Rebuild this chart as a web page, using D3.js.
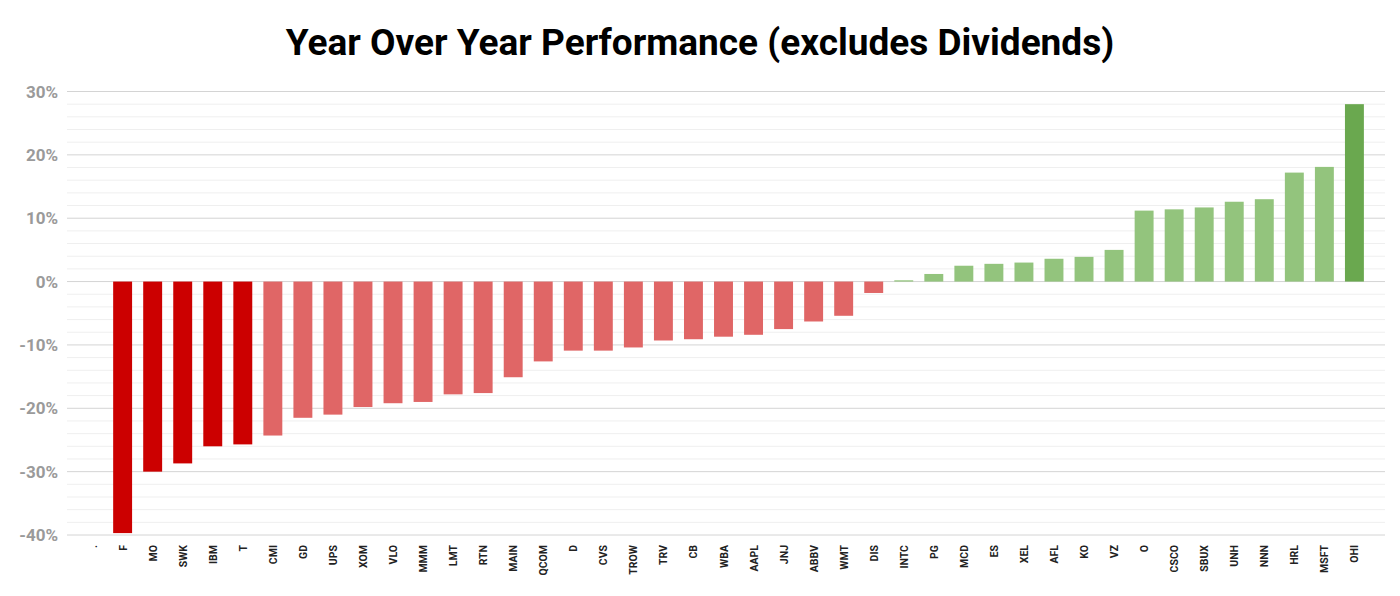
<!DOCTYPE html>
<html><head><meta charset="utf-8">
<script src="https://cdn.jsdelivr.net/npm/d3@7"></script>
<style>body{margin:0;background:#fff}</style>
</head><body><div id="chart"></div>
<script>
const tickers = [".", "F", "MO", "SWK", "IBM", "T", "CMI", "GD", "UPS", "XOM", "VLO", "MMM", "LMT", "RTN", "MAIN", "QCOM", "D", "CVS", "TROW", "TRV", "CB", "WBA", "AAPL", "JNJ", "ABBV", "WMT", "DIS", "INTC", "PG", "MCD", "ES", "XEL", "AFL", "KO", "VZ", "O", "CSCO", "SBUX", "UNH", "NNN", "HRL", "MSFT", "OHI"];
const change = [0, -39.7, -30, -28.7, -26, -25.7, -24.3, -21.5, -21, -19.8, -19.2, -19, -17.8, -17.6, -15.1, -12.6, -10.9, -10.9, -10.4, -9.3, -9.1, -8.7, -8.4, -7.5, -6.3, -5.4, -1.8, 0.2, 1.2, 2.5, 2.8, 3.0, 3.6, 3.9, 5.0, 11.2, 11.4, 11.7, 12.6, 13.0, 17.2, 18.1, 28.0];
const majorTicks = [-40, -30, -20, -10, 0, 10, 20, 30];
const minorTicks = d3.range(-40, 31, 2);

const width = 1400, height = 596;
const left = 67, right = 1385;

const svg = d3.select("#chart").append("svg")
  .attr("width", width).attr("height", height)
  .style("font-family", "Roboto, sans-serif");

svg.append("text")
  .attr("x", 700).attr("y", 55)
  .attr("text-anchor", "middle")
  .attr("font-size", 37).attr("font-weight", "bold")
  .text("Year Over Year Performance (excludes Dividends)");

const y = d3.scaleLinear().domain([-40, 30]).range([535, 91.5]);
const x = d3.scaleBand().domain(tickers).range([72, 1375]).padding(0.37);

// gridlines
svg.append("g").selectAll("line").data(minorTicks).join("line")
  .attr("x1", left).attr("x2", right)
  .attr("y1", d => y(d)).attr("y2", d => y(d))
  .attr("stroke", d => d % 10 === 0 ? "#d4d4d4" : "#efefef")
  .attr("stroke-width", 1);

svg.append("g").selectAll("text").data(majorTicks).join("text")
  .attr("x", 58).attr("y", d => y(d) + 6)
  .attr("text-anchor", "end")
  .attr("font-size", 17).attr("font-weight", "bold")
  .attr("fill", "#9a9a9a")
  .text(d => d + "%");

function color(t, v) {
  if (t === "OHI") return "#6aa84f";
  if (v >= 0) return "#93c47d";
  if (["F", "MO", "SWK", "IBM", "T"].includes(t)) return "#cc0000";
  return "#e06666";
}

svg.append("g").selectAll("rect").data(tickers).join("rect")
  .attr("x", d => x(d))
  .attr("width", x.bandwidth())
  .attr("y", (d, i) => y(Math.max(0, change[i])))
  .attr("height", (d, i) => Math.abs(y(change[i]) - y(0)))
  .attr("fill", (d, i) => color(d, change[i]));

svg.append("g").selectAll("text").data(tickers).join("text")
  .attr("transform", d => `translate(${x(d) + x.bandwidth() / 2 + 4},545) rotate(-90)`)
  .attr("text-anchor", "end")
  .attr("font-size", 10.5).attr("font-weight", "bold")
  .attr("fill", "#222")
  .text(d => d);
</script></body></html>
